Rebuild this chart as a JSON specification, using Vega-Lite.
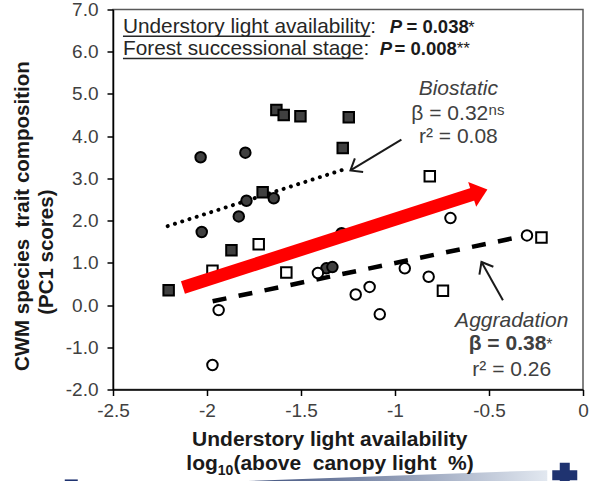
{
  "$schema": "https://vega.github.io/schema/vega-lite/v6.json",
  "width": 470,
  "height": 380,
  "autosize": {"type": "none"},
  "padding": {"left": 113, "top": 9.5, "right": 8, "bottom": 91.5},
  "background": "white",
  "config": {
    "font": "Liberation Sans",
    "view": {"stroke": "#595959", "strokeWidth": 1.5},
    "axis": {"grid": false, "domainColor": "black", "domainWidth": 1.5, "tickColor": "black", "tickWidth": 1.5, "tickSize": 6, "labelFont": "Liberation Sans", "labelFontSize": 19, "labelColor": "#404040"}
  },
  "encoding": {
    "x": {"field": "x", "type": "quantitative", "scale": {"domain": [-2.5, 0], "nice": false, "zero": false},
      "axis": {"values": [-2.5, -2, -1.5, -1, -0.5, 0], "labelExpr": "replace(format(datum.value,'~g'),'−','-')", "labelPadding": 6, "labelFlush": false, "title": null}},
    "y": {"field": "y", "type": "quantitative", "scale": {"domain": [-2, 7], "nice": false, "zero": false},
      "axis": {"values": [-2, -1, 0, 1, 2, 3, 4, 5, 6, 7], "labelExpr": "replace(format(datum.value,'.1f'),'−','-')", "labelPadding": 9, "title": null}}
  },
  "layer": [
    {
      "data": {"values": [{"x": -1.80, "y": -4.17, "y2": -4.20}, {"x": -0.19, "y": -3.91, "y2": -4.20}]},
      "mark": {"type": "area", "fill": {"gradient": "linear", "x1": 0, "y1": 0, "x2": 1, "y2": 0, "stops": [{"offset": 0, "color": "#3d4f7c"}, {"offset": 1, "color": "#e2e8f0"}]}},
      "encoding": {"y2": {"field": "y2"}}
    },
    {
      "data": {"values": [{"x": -2.209, "y": 1.87}, {"x": -1.259, "y": 3.23}]},
      "mark": {"type": "line", "color": "black", "strokeWidth": 4, "strokeDash": [0.01, 7.6], "strokeCap": "round"}
    },
    {
      "data": {"values": [{"x": -1.970, "y": 0.09}, {"x": -0.31, "y": 1.64}]},
      "mark": {"type": "line", "color": "black", "strokeWidth": 4.5, "strokeDash": [14, 12.5]}
    },
    {
      "data": {"values": [
        {"x": -2.204, "y": 0.35, "stage": "Biostatic", "form": "square"},
        {"x": -1.870, "y": 1.30, "stage": "Biostatic", "form": "square"},
        {"x": -1.704, "y": 2.67, "stage": "Biostatic", "form": "square"},
        {"x": -1.631, "y": 4.62, "stage": "Biostatic", "form": "square"},
        {"x": -1.592, "y": 4.50, "stage": "Biostatic", "form": "square"},
        {"x": -1.503, "y": 4.47, "stage": "Biostatic", "form": "square"},
        {"x": -1.246, "y": 4.45, "stage": "Biostatic", "form": "square"},
        {"x": -1.278, "y": 3.72, "stage": "Biostatic", "form": "square"},
        {"x": -2.034, "y": 3.50, "stage": "Biostatic", "form": "circle"},
        {"x": -1.796, "y": 3.61, "stage": "Biostatic", "form": "circle"},
        {"x": -2.028, "y": 1.73, "stage": "Biostatic", "form": "circle"},
        {"x": -1.831, "y": 2.10, "stage": "Biostatic", "form": "circle"},
        {"x": -1.790, "y": 2.47, "stage": "Biostatic", "form": "circle"},
        {"x": -1.645, "y": 2.53, "stage": "Biostatic", "form": "circle"},
        {"x": -1.365, "y": 0.87, "stage": "Biostatic", "form": "circle"},
        {"x": -1.333, "y": 0.90, "stage": "Biostatic", "form": "circle"},
        {"x": -1.284, "y": 1.70, "stage": "Biostatic", "form": "circle"},
        {"x": -1.971, "y": 0.81, "stage": "Aggradation", "form": "square"},
        {"x": -1.725, "y": 1.44, "stage": "Aggradation", "form": "square"},
        {"x": -1.578, "y": 0.77, "stage": "Aggradation", "form": "square"},
        {"x": -0.815, "y": 3.05, "stage": "Aggradation", "form": "square"},
        {"x": -0.745, "y": 0.34, "stage": "Aggradation", "form": "square"},
        {"x": -0.221, "y": 1.60, "stage": "Aggradation", "form": "square"},
        {"x": -1.971, "y": -1.42, "stage": "Aggradation", "form": "circle"},
        {"x": -1.938, "y": -0.12, "stage": "Aggradation", "form": "circle"},
        {"x": -1.410, "y": 0.76, "stage": "Aggradation", "form": "circle"},
        {"x": -1.209, "y": 0.25, "stage": "Aggradation", "form": "circle"},
        {"x": -1.135, "y": 0.43, "stage": "Aggradation", "form": "circle"},
        {"x": -1.081, "y": -0.22, "stage": "Aggradation", "form": "circle"},
        {"x": -0.948, "y": 0.87, "stage": "Aggradation", "form": "circle"},
        {"x": -0.821, "y": 0.67, "stage": "Aggradation", "form": "circle"},
        {"x": -0.705, "y": 2.06, "stage": "Aggradation", "form": "circle"},
        {"x": -0.298, "y": 1.65, "stage": "Aggradation", "form": "circle"}
      ]},
      "mark": {"type": "point", "filled": true, "size": 110, "stroke": "black", "strokeWidth": 2, "opacity": 1},
      "encoding": {
        "shape": {"field": "form", "type": "nominal", "scale": {"domain": ["square", "circle"], "range": ["square", "circle"]}, "legend": null},
        "fill": {"field": "stage", "type": "nominal", "scale": {"domain": ["Biostatic", "Aggradation"], "range": ["#404040", "#ffffff"]}, "legend": null}
      }
    },
    {
      "data": {"values": [{"x": -2.128, "y": 0.416, "x2": -0.579, "y2": 2.635}]},
      "mark": {"type": "rule", "color": "#ff0000", "strokeWidth": 13, "strokeCap": "butt"},
      "encoding": {"x2": {"field": "x2"}, "y2": {"field": "y2"}}
    },
    {
      "data": {"values": [{"x": -0.549, "y": 2.680}]},
      "mark": {"type": "point", "shape": "M -1 -1.625 L 1 0 L -1 1.625 Z", "size": 256, "angle": -18, "filled": true, "color": "#ff0000", "opacity": 1, "strokeWidth": 0}
    },
    {
      "data": {"values": [{"x": -0.966, "y": 3.92, "x2": -1.237, "y2": 3.19}, {"x": -0.426, "y": 0.115, "x2": -0.540, "y2": 1.02}]},
      "mark": {"type": "rule", "color": "#1a1a1a", "strokeWidth": 2},
      "encoding": {"x2": {"field": "x2"}, "y2": {"field": "y2"}}
    },
    {
      "data": {"values": [{"x": -1.237, "y": 3.19}]},
      "mark": {"type": "point", "shape": "M -1 -0.8 L 0 0 L -1 0.8", "size": 400, "angle": 148.9, "filled": false, "fill": "transparent", "stroke": "#1a1a1a", "strokeWidth": 2, "opacity": 1}
    },
    {
      "data": {"values": [{"x": -0.540, "y": 1.02}]},
      "mark": {"type": "point", "shape": "M -1 -0.8 L 0 0 L -1 0.8", "size": 400, "angle": -119.4, "filled": false, "fill": "transparent", "stroke": "#1a1a1a", "strokeWidth": 2, "opacity": 1}
    },
    {
      "data": {"values": [{"x": -2.447, "y": 6.432, "t": "Understory light availability:"}, {"x": -2.447, "y": 5.918, "t": "Forest successional stage:"}]},
      "mark": {"type": "text", "fontSize": 20.8, "align": "left", "baseline": "alphabetic", "color": "#262626"},
      "encoding": {"text": {"field": "t"}}
    },
    {
      "data": {"values": [{"x": -2.447, "y": 6.368, "x2": -1.131, "y2": 6.368}, {"x": -2.447, "y": 5.84, "x2": -1.168, "y2": 5.84}]},
      "mark": {"type": "rule", "color": "#262626", "strokeWidth": 1.4},
      "encoding": {"x2": {"field": "x2"}, "y2": {"field": "y2"}}
    },
    {
      "data": {"values": [{"x": -1.028, "y": 6.432, "t": "P"}, {"x": -1.081, "y": 5.918, "t": "P"}]},
      "mark": {"type": "text", "fontSize": 18.5, "fontWeight": "bold", "fontStyle": "italic", "align": "left", "baseline": "alphabetic", "color": "#1a1a1a"},
      "encoding": {"text": {"field": "t"}}
    },
    {
      "data": {"values": [{"x": -0.939, "y": 6.432, "t": "= 0.038"}, {"x": -1.002, "y": 5.918, "t": "= 0.008"}]},
      "mark": {"type": "text", "fontSize": 18.5, "fontWeight": "bold", "align": "left", "baseline": "alphabetic", "color": "#1a1a1a"},
      "encoding": {"text": {"field": "t"}}
    },
    {
      "data": {"values": [{"x": -0.612, "y": 6.455, "t": "*"}, {"x": -0.672, "y": 5.949, "t": "**"}]},
      "mark": {"type": "text", "fontSize": 17, "align": "left", "baseline": "alphabetic", "color": "#1a1a1a"},
      "encoding": {"text": {"field": "t"}}
    },
    {
      "data": {"values": [{"x": -0.663, "y": 4.97, "t": "Biostatic"}, {"x": -0.379, "y": -0.52, "t": "Aggradation"}]},
      "mark": {"type": "text", "fontSize": 21, "fontStyle": "italic", "align": "center", "baseline": "alphabetic", "color": "#404040"},
      "encoding": {"text": {"field": "t"}}
    },
    {
      "data": {"values": [{"x": -0.663, "y": 3.83, "t": "r² = 0.08"}, {"x": -0.379, "y": -1.685, "t": "r² = 0.26"}]},
      "mark": {"type": "text", "fontSize": 21, "align": "center", "baseline": "alphabetic", "color": "#404040"},
      "encoding": {"text": {"field": "t"}}
    },
    {
      "data": {"values": [{"x": -0.913, "y": 4.38, "t": "β = 0.32"}]},
      "mark": {"type": "text", "fontSize": 21, "align": "left", "baseline": "alphabetic", "color": "#404040"},
      "encoding": {"text": {"field": "t"}}
    },
    {
      "data": {"values": [{"x": -0.502, "y": 4.497, "t": "ns"}]},
      "mark": {"type": "text", "fontSize": 15, "align": "left", "baseline": "alphabetic", "color": "#404040"},
      "encoding": {"text": {"field": "t"}}
    },
    {
      "data": {"values": [{"x": -0.608, "y": -1.07, "t": "β = 0.38"}]},
      "mark": {"type": "text", "fontSize": 21, "fontWeight": "bold", "align": "left", "baseline": "alphabetic", "color": "#404040"},
      "encoding": {"text": {"field": "t"}}
    },
    {
      "data": {"values": [{"x": -0.195, "y": -1.07, "t": "*"}]},
      "mark": {"type": "text", "fontSize": 16, "align": "left", "baseline": "alphabetic", "color": "#404040"},
      "encoding": {"text": {"field": "t"}}
    },
    {
      "data": {"values": [{"x": -2.946, "y": 2.105, "t": "CWM species\u00a0 trait composition"}, {"x": -2.821, "y": 1.252, "t": "(PC1 scores)"}]},
      "mark": {"type": "text", "fontSize": 20.5, "fontWeight": "bold", "angle": 270, "align": "center", "baseline": "alphabetic", "color": "#1a1a1a"},
      "encoding": {"text": {"field": "t"}}
    },
    {
      "data": {"values": [{"x": -1.347, "y": -3.343, "t": "Understory light availability"}]},
      "mark": {"type": "text", "fontSize": 21, "fontWeight": "bold", "align": "center", "baseline": "alphabetic", "color": "#1a1a1a"},
      "encoding": {"text": {"field": "t"}}
    },
    {
      "data": {"values": [{"x": -2.110, "y": -3.911, "t": "log"}, {"x": -1.8596, "y": -3.911, "t": "(above\u00a0 canopy light\u00a0 %)"}]},
      "mark": {"type": "text", "fontSize": 21, "fontWeight": "bold", "align": "left", "baseline": "alphabetic", "color": "#1a1a1a"},
      "encoding": {"text": {"field": "t"}}
    },
    {
      "data": {"values": [{"x": -1.9426, "y": -4.03, "t": "10"}]},
      "mark": {"type": "text", "fontSize": 14, "fontWeight": "bold", "align": "left", "baseline": "alphabetic", "color": "#1a1a1a"},
      "encoding": {"text": {"field": "t"}}
    },
    {
      "data": {"values": [{"x": -2.722, "y": -4.184}]},
      "mark": {"type": "point", "shape": "M -1 -0.35 L 1 -0.35 L 1 0.35 L -1 0.35 Z", "size": 169, "filled": true, "color": "#1f3370", "opacity": 1, "strokeWidth": 0}
    },
    {
      "data": {"values": [{"x": -0.097, "y": -4.03}]},
      "mark": {"type": "point", "shape": "cross", "size": 625, "filled": true, "color": "#1f3370", "opacity": 1, "strokeWidth": 0}
    }
  ]
}
